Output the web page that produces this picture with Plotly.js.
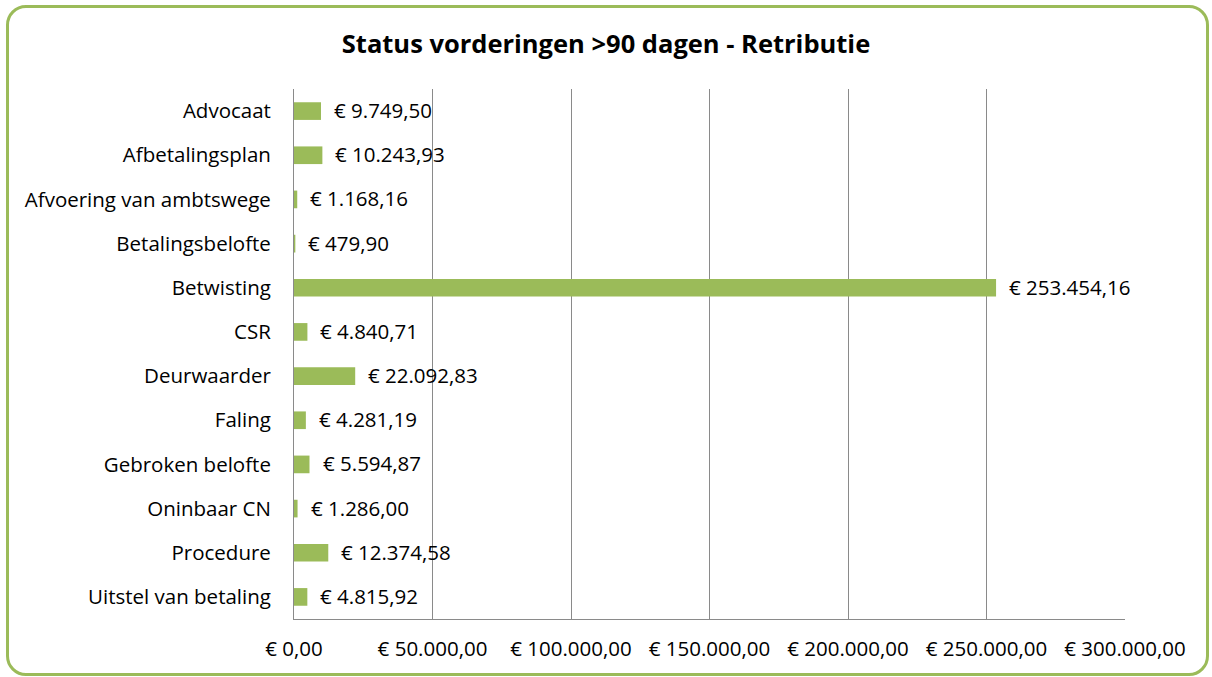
<!DOCTYPE html>
<html><head><meta charset="utf-8">
<script src="https://cdn.plot.ly/plotly-3.0.1.min.js"></script>
<style>
html,body{margin:0;padding:0;background:#fff;}
#frame{position:absolute;left:6px;top:5px;width:1197px;height:665px;border:3px solid #9BBB59;border-radius:20px;}
#chart{position:absolute;left:0;top:0;width:1212px;height:677px;}
</style></head>
<body>
<div id="frame"></div>
<div id="chart"></div>
<script>
const categories = ["Advocaat","Afbetalingsplan","Afvoering van ambtswege","Betalingsbelofte","Betwisting","CSR","Deurwaarder","Faling","Gebroken belofte","Oninbaar CN","Procedure","Uitstel van betaling"];
const values = [9749.50,10243.93,1168.16,479.90,253454.16,4840.71,22092.83,4281.19,5594.87,1286.00,12374.58,4815.92];
const tickValues = [0,50000,100000,150000,200000,250000,300000];
const tickLabels = ["€ 0,00","€ 50.000,00","€ 100.000,00","€ 150.000,00","€ 200.000,00","€ 250.000,00","€ 300.000,00"];

function fmt(v){
  const parts = v.toFixed(2).split(".");
  const intp = parts[0].replace(/\B(?=(\d{3})+(?!\d))/g,".");
  return "€ " + intp + "," + parts[1];
}
const FONT = "'Open Sans', Lato, sans-serif";
const FS = 20.5;
const trace = {
  type:"bar", orientation:"h", x:values, y:categories,
  marker:{color:"#9BBB59"}, hoverinfo:"none"
};
const annotations = values.map((v,i)=>({
  x:v, y:categories[i], xref:"x", yref:"y", text:fmt(v), showarrow:false,
  xanchor:"left", xshift:11, yshift:1, font:{family:FONT,size:FS,color:"#000"}
}));
const layout = {
  width:1212, height:677,
  margin:{l:294,r:87,t:89,b:58},
  paper_bgcolor:"rgba(0,0,0,0)", plot_bgcolor:"rgba(0,0,0,0)",
  showlegend:false, bargap:0.6,
  title:{text:"<b>Status vorderingen >90 dagen - Retributie</b>", x:0.5, xanchor:"center", y:0.935, yanchor:"middle",
    font:{family:FONT,size:25.5,color:"#000"}},
  xaxis:{range:[0,300000], tickvals:tickValues, ticktext:tickLabels, showgrid:true, gridcolor:"#8a8a8a", gridwidth:1,
    showline:true, linecolor:"#8a8a8a", linewidth:1, zeroline:false, ticks:"", ticklabelstandoff:11,
    tickfont:{family:FONT,size:FS,color:"#000"}, fixedrange:true},
  yaxis:{autorange:"reversed", showline:true, linecolor:"#8a8a8a", linewidth:1, ticks:"", ticklabelstandoff:18,
    tickfont:{family:FONT,size:FS,color:"#000"}, showgrid:false, fixedrange:true},
  annotations:annotations
};
Plotly.newPlot("chart",[trace],layout,{displayModeBar:false,staticPlot:true});
</script>
</body></html>
